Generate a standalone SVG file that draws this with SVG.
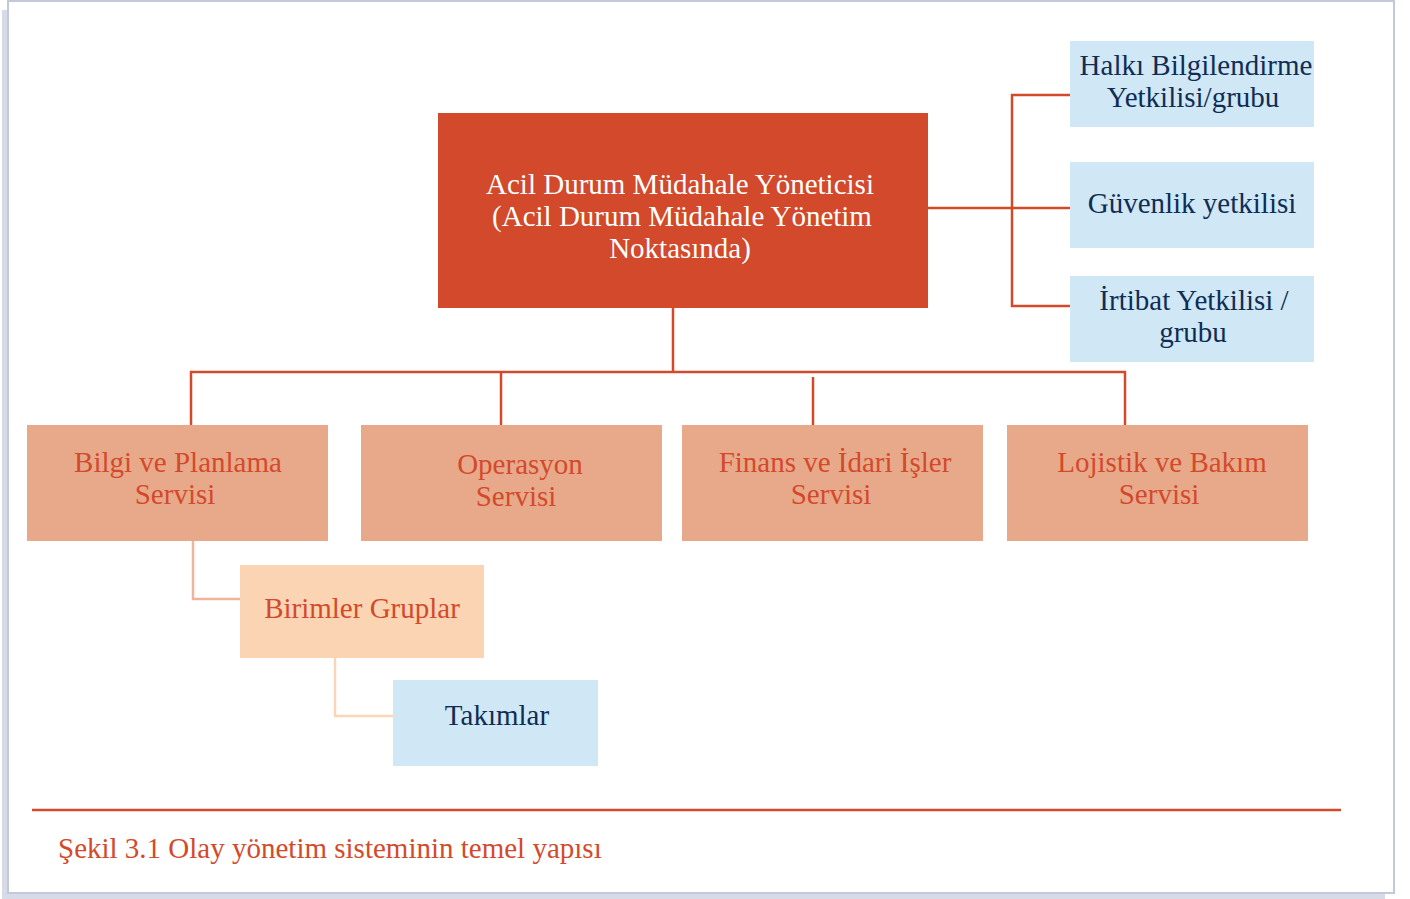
<svg xmlns="http://www.w3.org/2000/svg" width="1410" height="899" viewBox="0 0 1410 899">
<style>
text{font-family:"Liberation Serif","DejaVu Serif",serif;font-size:29px;text-anchor:middle}
.w{fill:#ffffff}
.r{fill:#d34a2b}
.b{fill:#0f2d55}
.main{fill:#d2492b}
.svc{fill:#e8a98b}
.blue{fill:#d0e7f6}
.peach{fill:#fbd5b3}
.ln{fill:none;stroke:#d34a2b;stroke-width:2.5}
</style>
<rect x="0" y="0" width="1410" height="899" fill="#ffffff"/>
<rect x="2" y="10" width="6" height="889" fill="#d6dbe7"/>
<rect x="2" y="893" width="1383" height="6" fill="#d6dbe7"/>
<rect x="8" y="1" width="1386" height="892" fill="#ffffff" stroke="#c3c9db" stroke-width="2"/>
<g id="connectors">
<path class="ln" d="M673 308V372M191 425V372H1125V425M501 372V425M813 377V425"/>
<path class="ln" d="M928 208H1070M1070 95H1012V306H1070"/>
<path fill="none" stroke="#f0b39b" stroke-width="2.5" d="M193 541V599H240"/>
<path fill="none" stroke="#fcd5b7" stroke-width="2.5" d="M335 658V716H393"/>
</g>
<g id="n-main">
<rect class="main" x="438" y="113" width="490" height="195"/>
<text class="w" x="680" y="194">Acil Durum Müdahale Yöneticisi</text>
<text class="w" x="682" y="226">(Acil Durum Müdahale Yönetim</text>
<text class="w" x="680" y="258">Noktasında)</text>
</g>
<g id="n-halki">
<rect class="blue" x="1070" y="41" width="244" height="86"/>
<text class="b" x="1196" y="75">Halkı Bilgilendirme</text>
<text class="b" x="1193" y="107">Yetkilisi/grubu</text>
</g>
<g id="n-guvenlik">
<rect class="blue" x="1070" y="162" width="244" height="86"/>
<text class="b" x="1192" y="213">Güvenlik yetkilisi</text>
</g>
<g id="n-irtibat">
<rect class="blue" x="1070" y="276" width="244" height="86"/>
<text class="b" x="1194" y="310">İrtibat Yetkilisi /</text>
<text class="b" x="1193" y="342">grubu</text>
</g>
<g id="n-bilgi">
<rect class="svc" x="27" y="425" width="301" height="116"/>
<text class="r" x="178" y="472">Bilgi ve Planlama</text>
<text class="r" x="175" y="504">Servisi</text>
</g>
<g id="n-operasyon">
<rect class="svc" x="361" y="425" width="301" height="116"/>
<text class="r" x="520" y="474">Operasyon</text>
<text class="r" x="516" y="506">Servisi</text>
</g>
<g id="n-finans">
<rect class="svc" x="682" y="425" width="301" height="116"/>
<text class="r" x="835" y="472">Finans ve İdari İşler</text>
<text class="r" x="831" y="504">Servisi</text>
</g>
<g id="n-lojistik">
<rect class="svc" x="1007" y="425" width="301" height="116"/>
<text class="r" x="1162" y="472">Lojistik ve Bakım</text>
<text class="r" x="1159" y="504">Servisi</text>
</g>
<g id="n-birimler">
<rect class="peach" x="240" y="565" width="244" height="93"/>
<text class="r" x="362" y="618">Birimler Gruplar</text>
</g>
<g id="n-takimlar">
<rect class="blue" x="393" y="680" width="205" height="86"/>
<text class="b" x="497" y="725">Takımlar</text>
</g>
<g id="caption">
<line x1="32" y1="810" x2="1341" y2="810" stroke="#d34a2b" stroke-width="2.5"/>
<text class="r" x="58" y="858" style="text-anchor:start">Şekil 3.1 Olay yönetim sisteminin temel yapısı</text>
</g>
</svg>
